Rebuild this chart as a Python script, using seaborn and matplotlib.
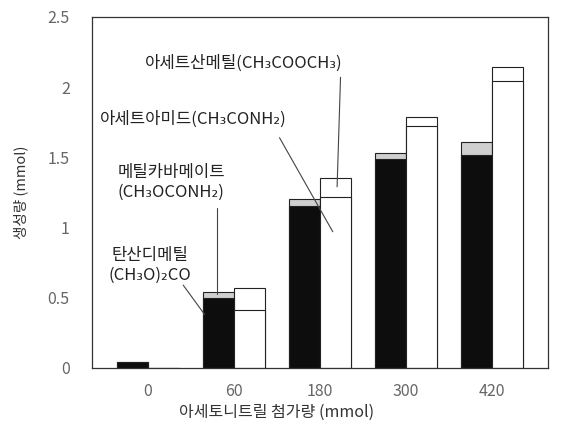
import pandas as pd
import numpy as np
import matplotlib.pyplot as plt
import seaborn as sns

# values (mmol)
additions = ['0', '60', '180', '300', '420']
dimethyl_carbonate = [0.04, 0.50, 1.15, 1.49, 1.52]
methyl_carbamate = [0.00, 0.04, 0.05, 0.04, 0.09]
acetamide = [0.00, 0.41, 1.22, 1.72, 2.04]
methyl_acetate = [0.00, 0.16, 0.13, 0.07, 0.10]

sns.set_style('white')
plt.rcParams['font.family'] = ['Noto Sans CJK KR', 'DejaVu Sans']

totals = pd.DataFrame({
    'x': additions * 2,
    'kind': ['black'] * 5 + ['white'] * 5,
    'v': list(np.add(dimethyl_carbonate, methyl_carbamate)) + list(np.add(acetamide, methyl_acetate)),
})
bases = pd.DataFrame({
    'x': additions * 2,
    'kind': ['black'] * 5 + ['white'] * 5,
    'v': dimethyl_carbonate + acetamide,
})

fig = plt.figure(figsize=(5.79, 4.22), dpi=100)
ax = fig.add_axes([0.159, 0.128, 0.787, 0.832])

sns.barplot(data=totals, x='x', y='v', hue='kind', palette={'black': '#cfcfcf', 'white': 'white'},
            edgecolor='#222222', linewidth=0.8, width=0.72, gap=0, ax=ax, legend=False)
sns.barplot(data=bases, x='x', y='v', hue='kind', palette={'black': '#0d0d0d', 'white': 'white'},
            edgecolor='#222222', linewidth=0.8, width=0.72, gap=0, ax=ax, legend=False)

ax.set_xlim(-0.65, 4.65)
ax.set_ylim(0, 2.5)
ax.set_yticks([0, 0.5, 1, 1.5, 2, 2.5])
ax.set_yticklabels(['0', '0.5', '1', '1.5', '2', '2.5'])
for s in ax.spines.values():
    s.set_color('#333333')
    s.set_linewidth(0.9)
ax.tick_params(axis='y', direction='in', length=5, width=0.8, pad=16, colors='#333333',
               labelcolor='#666666', labelsize=11.5)
ax.tick_params(axis='x', length=0, pad=11, labelcolor='#666666', labelsize=11.5)
ax.set_xlabel('아세토니트릴 첨가량 (mmol)', fontsize=11.5, color='#333333', va='center')
ax.xaxis.set_label_coords(0.405, -0.127)
ax.set_ylabel('생성량 (mmol)', fontsize=10.5, color='#333333', labelpad=14)

txt = dict(fontsize=12, color='#222222', ha='center', va='center')
line = dict(color='#444444', lw=0.8)
ax.text(1.12, 2.17, '아세트산메틸(CH₃COOCH₃)', **txt)
ax.plot([2.24, 2.20], [2.07, 1.29], **line)
ax.text(0.53, 1.77, '아세트아미드(CH₃CONH₂)', **txt)
ax.plot([1.53, 2.15], [1.64, 0.97], **line)
ax.text(0.27, 1.39, '메틸카바메이트', **txt)
ax.text(0.27, 1.25, '(CH₃OCONH₂)', **txt)
ax.plot([0.80, 0.80], [1.14, 0.53], **line)
ax.text(0.02, 0.80, '탄산디메틸', **txt)
ax.text(0.02, 0.66, '(CH₃O)₂CO', **txt)
ax.plot([0.41, 0.66], [0.59, 0.38], **line)

fig.savefig('out.png', dpi=100)
